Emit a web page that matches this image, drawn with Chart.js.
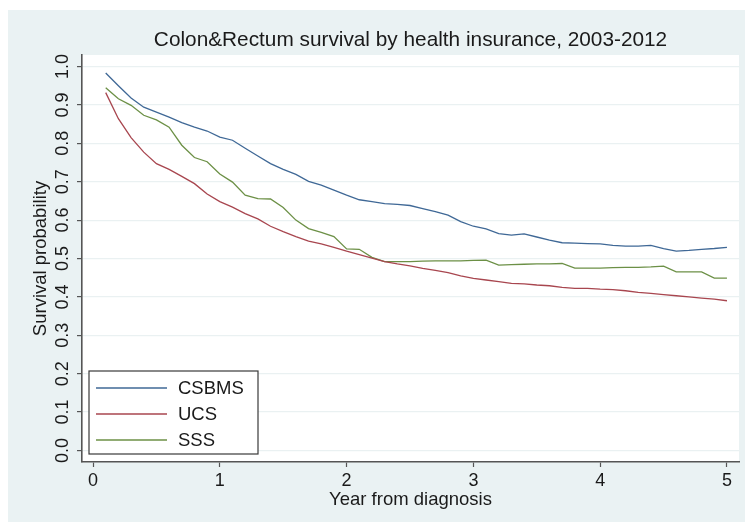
<!DOCTYPE html>
<html>
<head>
<meta charset="utf-8">
<script src="https://cdn.jsdelivr.net/npm/chart.js@4.4.1/dist/chart.umd.min.js"></script>
<style>
  html, body { margin: 0; padding: 0; background: #ffffff; }
  canvas { display: block; }
</style>
</head>
<body>
<canvas id="chart" width="745" height="522"></canvas>
<script>
// Años desde el diagnóstico (cada 0.1)
const years = [0.1, 0.2, 0.3, 0.4, 0.5, 0.6, 0.7, 0.8, 0.9, 1.0,
  1.1, 1.2, 1.3, 1.4, 1.5, 1.6, 1.7, 1.8, 1.9, 2.0,
  2.1, 2.2, 2.3, 2.4, 2.5, 2.6, 2.7, 2.8, 2.9, 3.0,
  3.1, 3.2, 3.3, 3.4, 3.5, 3.6, 3.7, 3.8, 3.9, 4.0,
  4.1, 4.2, 4.3, 4.4, 4.5, 4.6, 4.7, 4.8, 4.9, 5.0];

const csbms = [0.983, 0.950, 0.918, 0.894, 0.881, 0.868, 0.854, 0.842, 0.832, 0.816,
  0.808, 0.787, 0.767, 0.747, 0.732, 0.719, 0.701, 0.691, 0.678, 0.665,
  0.653, 0.648, 0.643, 0.641, 0.638, 0.630, 0.622, 0.613, 0.596, 0.584,
  0.577, 0.565, 0.561, 0.564, 0.556, 0.548, 0.541, 0.540, 0.539, 0.538,
  0.534, 0.532, 0.532, 0.534, 0.526, 0.519, 0.521, 0.524, 0.526, 0.529];

const ucs = [0.932, 0.864, 0.815, 0.777, 0.747, 0.732, 0.714, 0.695, 0.668, 0.648,
  0.634, 0.617, 0.603, 0.584, 0.570, 0.557, 0.545, 0.538, 0.529, 0.519,
  0.510, 0.501, 0.492, 0.486, 0.481, 0.474, 0.469, 0.463, 0.455, 0.448,
  0.444, 0.440, 0.435, 0.434, 0.431, 0.429, 0.425, 0.422, 0.422, 0.420,
  0.419, 0.416, 0.412, 0.409, 0.406, 0.403, 0.400, 0.397, 0.394, 0.390];

const sss = [0.945, 0.916, 0.899, 0.873, 0.861, 0.842, 0.795, 0.763, 0.752, 0.720,
  0.699, 0.665, 0.656, 0.655, 0.633, 0.600, 0.578, 0.568, 0.557, 0.525,
  0.524, 0.503, 0.492, 0.492, 0.492, 0.493, 0.494, 0.494, 0.494, 0.495,
  0.496, 0.483, 0.484, 0.485, 0.486, 0.486, 0.487, 0.475, 0.475, 0.475,
  0.476, 0.477, 0.477, 0.478, 0.480, 0.465, 0.465, 0.465, 0.449, 0.449];

const seriesNames = ['CSBMS', 'UCS', 'SSS'];
const seriesColors = ['#3f6896', '#a8464f', '#6c9046'];

const xTicks = [0, 1, 2, 3, 4, 5];
const yTicks = [0, 0.1, 0.2, 0.3, 0.4, 0.5, 0.6, 0.7, 0.8, 0.9, 1.0];

const chartTitle = 'Colon&Rectum survival by health insurance, 2003-2012';

const FONT = "'Liberation Sans', Arial, Helvetica, sans-serif";

// Unir años con valores
function toPoints(values) {
    return values.map((v, i) => ({ x: years[i], y: v }));
}

// Fondo estilo Stata
const backgroundPlugin = {
    id: 'fondo',
    beforeDraw(chart) {
        const { ctx, chartArea } = chart;
        ctx.save();
        ctx.fillStyle = '#ffffff';
        ctx.fillRect(0, 0, chart.width, chart.height);
        ctx.fillStyle = '#eaf2f3';
        ctx.fillRect(8, 10, chart.width - 8, chart.height - 10);
        ctx.fillStyle = '#ffffff';
        ctx.fillRect(chartArea.left, chartArea.top,
            chartArea.right - chartArea.left, chartArea.bottom - chartArea.top);
        ctx.restore();
    },
    // Título centrado sobre el área del gráfico
    afterDraw(chart) {
        const { ctx, chartArea } = chart;
        ctx.save();
        ctx.font = '20.8px ' + FONT;
        ctx.fillStyle = '#1a1a1a';
        ctx.textAlign = 'center';
        ctx.textBaseline = 'middle';
        ctx.fillText(chartTitle, (chartArea.left + chartArea.right) / 2, chartArea.top - 15);
        ctx.restore();
    }
};

// Leyenda dentro del área del gráfico, abajo a la izquierda
const legendBoxPlugin = {
    id: 'leyendaCaja',
    afterDraw(chart) {
        const { ctx, chartArea } = chart;
        const boxX = chartArea.left + 7;
        const boxW = 169;
        const boxH = 83;
        const boxY = chartArea.bottom - 8 - boxH;
        ctx.save();
        ctx.fillStyle = '#ffffff';
        ctx.fillRect(boxX, boxY, boxW, boxH);
        ctx.strokeStyle = '#3a3a3a';
        ctx.lineWidth = 1.2;
        ctx.strokeRect(boxX, boxY, boxW, boxH);
        ctx.font = '18.5px ' + FONT;
        ctx.textBaseline = 'middle';
        ctx.textAlign = 'left';
        chart.data.datasets.forEach((ds, i) => {
            const rowY = boxY + 17 + i * 26;
            ctx.strokeStyle = ds.borderColor;
            ctx.lineWidth = 1.3;
            ctx.beginPath();
            ctx.moveTo(boxX + 7, rowY);
            ctx.lineTo(boxX + 78, rowY);
            ctx.stroke();
            ctx.fillStyle = '#1a1a1a';
            ctx.fillText(ds.label, boxX + 89, rowY + 1);
        });
        ctx.restore();
    }
};

const datasets = [csbms, ucs, sss].map((values, i) => ({
    label: seriesNames[i],
    data: toPoints(values),
    borderColor: seriesColors[i],
    backgroundColor: seriesColors[i],
    borderWidth: 1.3,
    pointRadius: 0,
    tension: 0,
    fill: false
}));

new Chart(document.getElementById('chart'), {
    type: 'line',
    data: { datasets },
    plugins: [backgroundPlugin, legendBoxPlugin],
    options: {
        responsive: false,
        animation: false,
        devicePixelRatio: 1,
        layout: { padding: { top: 55, right: 6, bottom: 0, left: 0 } },
        plugins: {
            legend: { display: false },
            tooltip: { enabled: false },
            title: { display: false }
        },
        scales: {
            x: {
                type: 'linear',
                min: -0.087,
                max: 5.095,
                afterBuildTicks: (scale) => { scale.ticks = xTicks.map(v => ({ value: v })); },
                afterFit: (scale) => { scale.height = 60; },
                ticks: {
                    color: '#1a1a1a',
                    font: { family: FONT, size: 18 },
                    padding: 3,
                    maxRotation: 0,
                    callback: (v) => String(v)
                },
                grid: {
                    drawOnChartArea: false,
                    drawTicks: true,
                    tickLength: 5,
                    tickColor: '#555555',
                    tickWidth: 1.2
                },
                border: { display: true, color: '#555555', width: 1.6 },
                title: {
                    display: true,
                    text: 'Year from diagnosis',
                    color: '#1a1a1a',
                    font: { family: FONT, size: 18.5 },
                    padding: { top: 0, bottom: 11 }
                }
            },
            y: {
                type: 'linear',
                min: -0.03,
                max: 1.03,
                afterBuildTicks: (scale) => { scale.ticks = yTicks.map(v => ({ value: v })); },
                afterFit: (scale) => { scale.width = 82; },
                ticks: {
                    color: '#1a1a1a',
                    font: { family: FONT, size: 18 },
                    padding: 1.5,
                    minRotation: 90,
                    maxRotation: 90,
                    crossAlign: 'center',
                    callback: (v) => Number(v).toFixed(1)
                },
                grid: {
                    color: '#eaf1f2',
                    lineWidth: 1.2,
                    drawTicks: true,
                    tickLength: 5,
                    tickColor: '#555555',
                    tickWidth: 1.2
                },
                border: { display: true, color: '#555555', width: 1.6 },
                title: {
                    display: true,
                    text: 'Survival probability',
                    color: '#1a1a1a',
                    font: { family: FONT, size: 18.5 },
                    padding: { top: 30, bottom: 0 }
                }
            }
        }
    }
});
</script>
</body>
</html>
